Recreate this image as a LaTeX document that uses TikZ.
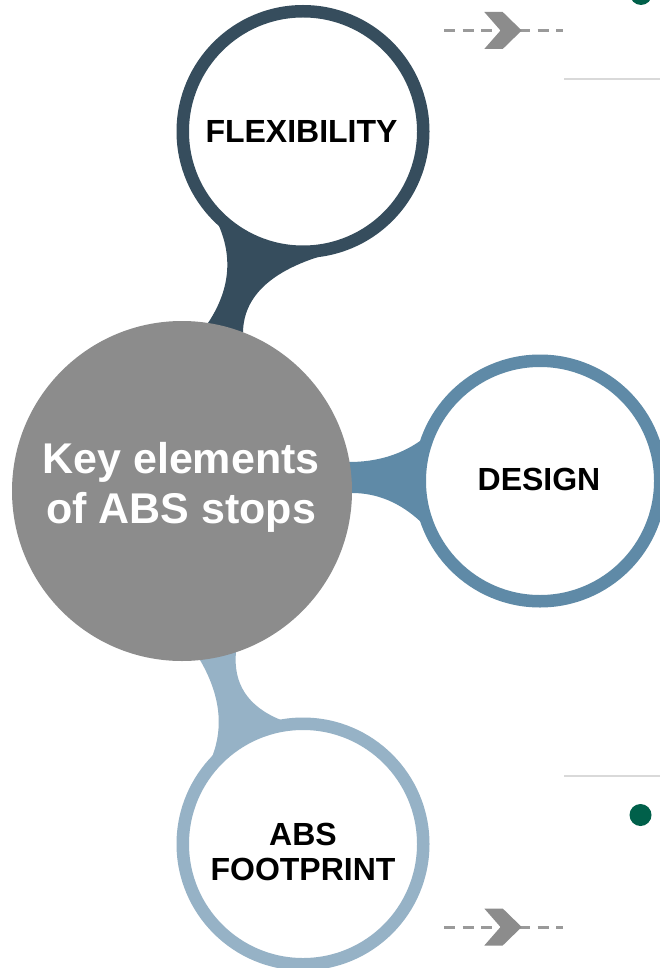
\documentclass[tikz,border=0pt]{standalone}
\usepackage{fontspec}
\setmainfont{Liberation Sans}
\definecolor{flexc}{HTML}{364D5D}
\definecolor{desc}{HTML}{5F8AA7}
\definecolor{footc}{HTML}{96B2C6}
\definecolor{corec}{HTML}{8C8C8C}
\definecolor{dotc}{HTML}{00604A}
\definecolor{rulec}{HTML}{D9D9D9}
\definecolor{dashc}{HTML}{9A9A9A}
\tikzset{
  ring/.style={circle, draw=#1, fill=white, line width=12.5pt, minimum size=240.5pt, inner sep=0pt},
  corecircle/.style={circle, fill=corec, minimum size=340pt, inner sep=0pt},
  ringtxt/.style={font=\fontsize{32}{35}\selectfont\bfseries, align=center, inner sep=0pt, text=black},
  coretxt/.style={font=\fontsize{43}{50}\selectfont\bfseries, align=center, inner sep=0pt, text=white},
  flowline/.style={draw=dashc, line width=3pt, dash pattern=on 11pt off 7.7pt},
  chev/.style={fill=corec},
  rulerline/.style={draw=rulec, line width=2.5pt},
  gdot/.style={circle, fill=dotc, minimum size=22pt, inner sep=0pt},
}
\begin{document}
\begin{tikzpicture}[x=1pt,y=-1pt]
\clip (0,0) rectangle (660,968);
\fill[white] (0,0) rectangle (660,968);
% centres
\coordinate (corepos) at (182,491);
\coordinate (flexpos) at (303,131.5);
\coordinate (despos) at (540,481);
\coordinate (footpos) at (303,844);
% necks (connectors)
\fill[flexc] (flexpos) -- (219,226) .. controls (233,258.7) and (229.3,291) .. (208,323)
  -- (corepos) -- (243,332) .. controls (243.7,298) and (268.7,273) .. (318,257) -- cycle;
\fill[desc] (despos) -- (420,441) .. controls (400,455) and (376.3,462) .. (349,462)
  -- (corepos) -- (352,493) .. controls (377.3,493) and (400.3,502.7) .. (421,522) -- cycle;
\fill[footc] (footpos) -- (281,720) .. controls (248,706.7) and (233,684) .. (236,652)
  -- (corepos) -- (200,660) .. controls (220,694.3) and (224,726.7) .. (212,757) -- cycle;
% circles
\node[ring=flexc] (flex) at (flexpos) {};
\node[ring=desc] (design) at (despos) {};
\node[ring=footc] (foot) at (footpos) {};
\node[corecircle] (core) at (corepos) {};
% texts
\node[ringtxt] (flextxt) at (301.5,131.5) {FLEXIBILITY};
\node[ringtxt] (destxt) at (539,479.5) {DESIGN};
\node[ringtxt] (foottxt) at (303,851.5) {ABS\\FOOTPRINT};
\node[coretxt] (coretext) at (181,487) {Key elements\\of ABS stops};
% right side decorations
\coordinate (fa1) at (444,30.5);
\coordinate (fa2) at (563,30.5);
\coordinate (fb1) at (444,927);
\coordinate (fb2) at (563,927);
\draw[flowline] (fa1) -- (fa2);
\draw[flowline] (fb1) -- (fb2);
\fill[chev] (484.3,12) -- (502.7,12) -- (521.7,30.5) -- (502.7,49) -- (484.3,49) -- (500.5,30.5) -- cycle;
\fill[chev] (484.3,908.5) -- (502.7,908.5) -- (521.7,927) -- (502.7,945.5) -- (484.3,945.5) -- (500.5,927) -- cycle;
\coordinate (ra1) at (564,79);
\coordinate (ra2) at (660,79);
\coordinate (rb1) at (564,776);
\coordinate (rb2) at (660,776);
\draw[rulerline] (ra1) -- (ra2);
\draw[rulerline] (rb1) -- (rb2);
\node[gdot] (dot1) at (641,-6) {};
\node[gdot] (dot2) at (640.5,815) {};
\end{tikzpicture}
\end{document}
